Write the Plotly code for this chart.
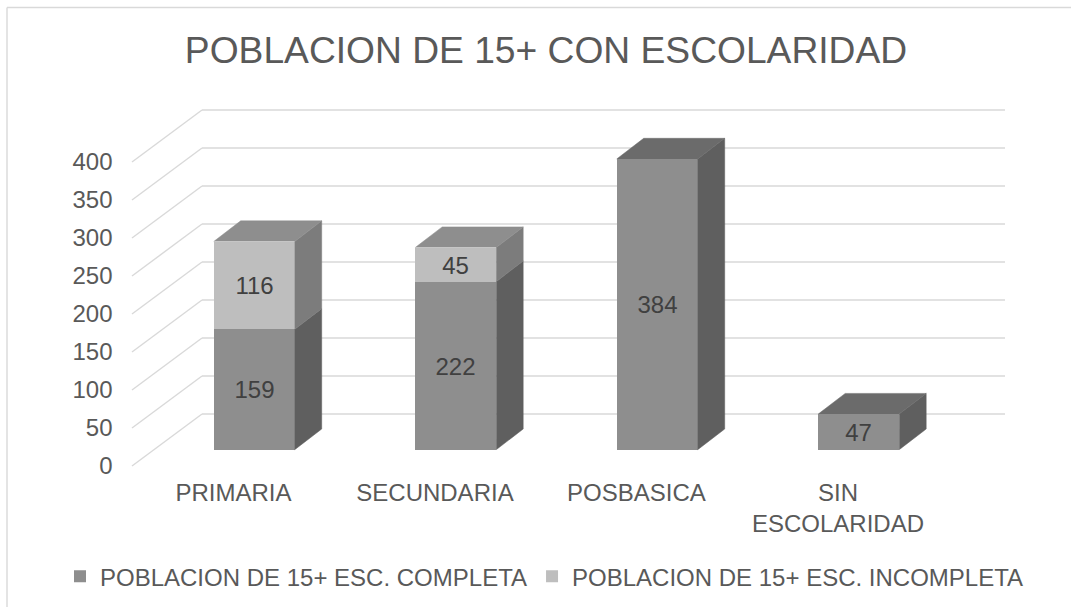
import plotly.graph_objects as go

categories = ["PRIMARIA", "SECUNDARIA", "POSBASICA", "SIN ESCOLARIDAD"]
tick_text = ["PRIMARIA", "SECUNDARIA", "POSBASICA", "SIN<br>ESCOLARIDAD"]
completa = [159, 222, 384, 47]
incompleta = [116, 45, None, None]
y_ticks = [0, 50, 100, 150, 200, 250, 300, 350, 400]
title_text = "POBLACION DE 15+ CON ESCOLARIDAD"
name_completa = "POBLACION DE 15+ ESC. COMPLETA"
name_incompleta = "POBLACION DE 15+ ESC. INCOMPLETA"

W, H = 1071, 607
# pixel scales of the 3D projection
PX_CAT = 201.5
PX_VAL = 0.757
X0_PX, Y0_PX = 254.2, 449.7

def ux(px):
    return (px - X0_PX) / PX_CAT

def uy(px):
    return (Y0_PX - px) / PX_VAL

BAR_W = 81 / PX_CAT
DX, DY = 27 / PX_CAT, 20.7 / PX_VAL

GRID = "#d9d9d9"
FRONT_C, FRONT_I = "#8e8e8e", "#bebebe"
SIDE_C, SIDE_I = "#5f5f5f", "#7c7c7c"
TOP_C, TOP_I = "#6b6b6b", "#8e8e8e"
TEXT = "#595959"
LABEL = "#404040"
FONT = "Liberation Sans"

fig = go.Figure()

xs = list(range(len(categories)))
fig.add_trace(go.Bar(
    x=xs, y=completa, width=BAR_W, name=name_completa, marker=dict(color=FRONT_C, line=dict(width=0)),
    text=completa, textposition="inside", insidetextanchor="middle", textangle=0,
    textfont=dict(color=LABEL, size=24, family=FONT), cliponaxis=False))
fig.add_trace(go.Bar(
    x=xs, y=incompleta, width=BAR_W, name=name_incompleta, marker=dict(color=FRONT_I, line=dict(width=0)),
    text=incompleta, textposition="inside", insidetextanchor="middle", textangle=0,
    textfont=dict(color=LABEL, size=24, family=FONT), cliponaxis=False))


def face(pts, color):
    fig.add_trace(go.Scatter(
        x=[p[0] for p in pts], y=[p[1] for p in pts], mode="lines", fill="toself",
        fillcolor=color, line=dict(color=color, width=0.5), showlegend=False, hoverinfo="skip"))


for i, x in enumerate(xs):
    r = x + BAR_W / 2
    l = x - BAR_W / 2
    low, inc = completa[i], incompleta[i] or 0
    face([(r, 0), (r + DX, DY), (r + DX, low + DY), (r, low)], SIDE_C)
    if inc:
        top = low + inc
        face([(r, low), (r + DX, low + DY), (r + DX, top + DY), (r, top)], SIDE_I)
        face([(l, top), (l + DX, top + DY), (r + DX, top + DY), (r, top)], TOP_I)
    else:
        face([(l, low), (l + DX, low + DY), (r + DX, low + DY), (r, low)], TOP_C)

# walls: gridlines on the back wall and the left wall, under the bars
shapes = []
back_x0, back_x1, front_x = ux(202), ux(1005), ux(132)
back_y0 = uy(414)
front_y0 = uy(466)
for t in y_ticks:
    yb = back_y0 + t * 0.76 / PX_VAL
    yf = front_y0 + t * 0.76 / PX_VAL
    shapes.append(dict(type="line", xref="x", yref="y", layer="below", x0=back_x0, x1=back_x1, y0=yb, y1=yb,
                       line=dict(color=GRID, width=1.4)))
    shapes.append(dict(type="line", xref="x", yref="y", layer="below", x0=front_x, x1=back_x0, y0=yf, y1=yb,
                       line=dict(color=GRID, width=1.4)))
# outer chart frame
shapes.append(dict(type="line", xref="paper", yref="paper", x0=7 / W, x1=7 / W, y0=0, y1=1 - 7.5 / H,
                   line=dict(color=GRID, width=1.4)))
shapes.append(dict(type="line", xref="paper", yref="paper", x0=7 / W, x1=1, y0=1 - 7.5 / H, y1=1 - 7.5 / H,
                   line=dict(color=GRID, width=1.4)))

# y tick-label axis follows the front edge of the left wall
L0_PX, L_SCALE = 466.0, 0.76

fig.update_layout(
    width=W, height=H, margin=dict(l=0, r=0, t=0, b=0, pad=0, autoexpand=False),
    paper_bgcolor="white", plot_bgcolor="rgba(0,0,0,0)", barmode="stack", bargap=0,
    font=dict(family=FONT, color=TEXT),
    title=dict(text=title_text, font=dict(size=37.2, color=TEXT, family=FONT),
               x=546 / W, xanchor="center", y=1 - 49.5 / H, yanchor="middle"),
    shapes=shapes,
    xaxis=dict(range=[ux(0), ux(W)], domain=[0, 1], anchor="free", position=1 - 476 / H, showgrid=False,
               zeroline=False, showline=False, ticks="",
               tickmode="array", tickvals=[x - 0.103 for x in xs], ticktext=tick_text,
               tickfont=dict(size=24, color=TEXT, family=FONT), automargin=False),
    yaxis=dict(range=[uy(H), uy(0)], domain=[0, 1], showgrid=False, zeroline=False, showticklabels=False,
               showline=False, ticks="", automargin=False),
    yaxis2=dict(range=[(L0_PX - H) / L_SCALE, L0_PX / L_SCALE], domain=[0, 1], overlaying="y", anchor="free",
                position=112.5 / W, side="left", showgrid=False, zeroline=False, showline=False, ticks="",
                tickmode="array", tickvals=y_ticks, ticktext=[str(t) for t in y_ticks],
                tickfont=dict(size=24, color=TEXT, family=FONT), automargin=False),
    legend=dict(orientation="h", x=60 / W, xanchor="left", y=1 - 576.7 / H, yanchor="middle",
                font=dict(size=24, color=TEXT, family=FONT), bgcolor="rgba(0,0,0,0)",
                traceorder="normal", itemclick=False),
)
# dummy trace so the tick-label axis is drawn
fig.add_trace(go.Scatter(x=[None], y=[None], yaxis="y2", showlegend=False, hoverinfo="skip"))

fig.write_html("out.html", post_script="document.body.style.margin='0';",
               config={"displayModeBar": False})
